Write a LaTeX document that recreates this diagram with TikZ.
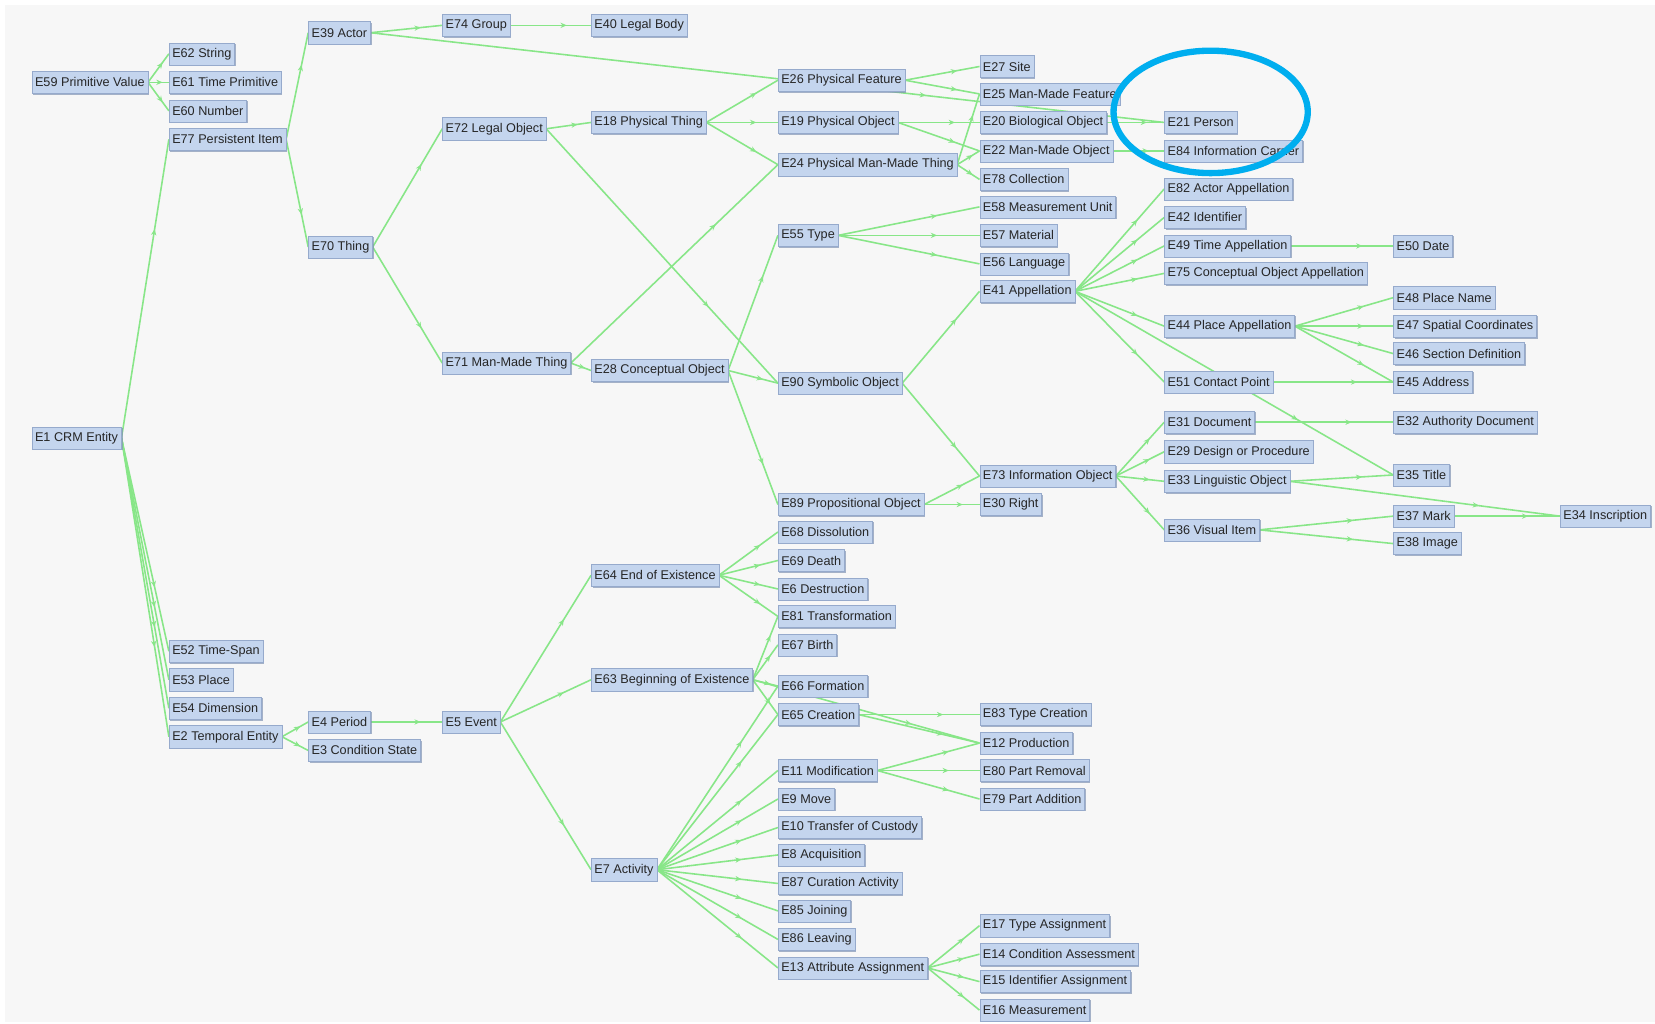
\documentclass[tikz,border=0pt]{standalone}
\usepackage{fontspec}
\setmainfont{Liberation Sans}
\usepackage{xcolor}
\usetikzlibrary{arrows.meta,decorations.markings,shadows}
\definecolor{boxfill}{RGB}{196,213,238}
\definecolor{boxline}{RGB}{150,170,204}
\definecolor{boxshade}{RGB}{130,148,180}
\definecolor{linkgreen}{RGB}{136,230,136}
\definecolor{ringblue}{RGB}{0,174,239}
\definecolor{canvas}{RGB}{247,247,247}
\pgfdeclarelayer{bg}
\pgfsetlayers{bg,main}

\begin{document}
\begin{tikzpicture}[x=1pt,y=-1pt]
    \tikzstyle{entity}=[draw=boxline,fill=boxfill,anchor=west,inner xsep=3pt,inner ysep=0pt,minimum height=21pt,
        font=\fontsize{12}{14}\selectfont,text=black!85,
        drop shadow={shadow xshift=1.2pt,shadow yshift=-1.2pt,fill=boxshade,opacity=0.7}]
    \tikzstyle{link}=[draw=linkgreen,color=linkgreen,line width=1.5pt,postaction={decorate},
        decoration={markings,mark=at position 0.7 with {\arrow{Stealth[length=6pt,width=5pt]}}}]

    \useasboundingbox (0,0) rectangle (1568,970);
    \begin{pgfonlayer}{bg}
        \fill[canvas] (5,5) rectangle (1568,968);
    \end{pgfonlayer}

    % Draw the first column
    \foreach \name / \y / \txt in {E59/78/Primitive Value, E1/415/CRM Entity}
        \node[entity] (\name) at (30,\y) {\name\ \txt};

    % Draw the second column
    \foreach \name / \y / \txt in {E62/51/String, E61/78/Time Primitive, E60/105/Number,
        E77/132/Persistent Item, E52/617/Time-Span, E53/644/Place,
        E54/671/Dimension, E2/698/Temporal Entity}
        \node[entity] (\name) at (160,\y) {\name\ \txt};

    % Draw the third column
    \foreach \name / \y / \txt in {E39/31/Actor, E70/234/Thing, E4/684/Period, E3/711/Condition State}
        \node[entity] (\name) at (292,\y) {\name\ \txt};

    % Draw the fourth column
    \foreach \name / \y / \txt in {E74/24/Group, E72/122/Legal Object, E71/344/Man-Made Thing, E5/684/Event}
        \node[entity] (\name) at (419,\y) {\name\ \txt};

    % Draw the fifth column
    \foreach \name / \y / \txt in {E40/24/Legal Body, E18/116/Physical Thing, E28/351/Conceptual Object,
        E64/545/End of Existence, E63/644/Beginning of Existence, E7/824/Activity}
        \node[entity] (\name) at (560,\y) {\name\ \txt};

    % Draw the sixth column
    \foreach \name / \y / \txt in {E26/76/Physical Feature, E19/116/Physical Object,
        E24/156/Physical Man-Made Thing, E55/223/Type, E90/363/Symbolic Object,
        E89/478/Propositional Object, E68/504/Dissolution, E69/531/Death,
        E6/558/Destruction, E81/584/Transformation, E67/611/Birth,
        E66/650/Formation, E65/677/Creation, E11/730/Modification, E9/757/Move,
        E10/784/Transfer of Custody, E8/810/Acquisition, E87/837/Curation Activity,
        E85/863/Joining, E86/890/Leaving, E13/917/Attribute Assignment}
        \node[entity] (\name) at (737,\y) {\name\ \txt};

    % Draw the seventh column
    \foreach \name / \y / \txt in {E27/63/Site, E25/89/Man-Made Feature, E20/116/Biological Object,
        E22/143/Man-Made Object, E78/170/Collection, E58/196/Measurement Unit,
        E57/223/Material, E56/250/Language, E41/276/Appellation,
        E73/451/Information Object, E30/478/Right, E83/677/Type Creation,
        E12/704/Production, E80/730/Part Removal, E79/757/Part Addition,
        E17/877/Type Assignment, E14/904/Condition Assessment,
        E15/930/Identifier Assignment, E16/957/Measurement}
        \node[entity] (\name) at (928,\y) {\name\ \txt};

    % Draw the eighth column
    \foreach \name / \y / \txt in {E21/116/Person, E84/143/Information Carrier,
        E82/179/Actor Appellation, E42/206/Identifier, E49/233/Time Appellation,
        E75/259/Conceptual Object Appellation, E44/309/Place Appellation,
        E51/362/Contact Point, E31/400/Document, E29/428/Design or Procedure,
        E33/456/Linguistic Object, E36/502/Visual Item}
        \node[entity] (\name) at (1103,\y) {\name\ \txt};

    % Draw the ninth column
    \foreach \name / \y / \txt in {E50/233/Date, E48/282/Place Name, E47/309/Spatial Coordinates,
        E46/335/Section Definition, E45/362/Address, E32/400/Authority Document,
        E35/450/Title, E37/489/Mark, E38/515/Image}
        \node[entity] (\name) at (1320,\y) {\name\ \txt};

    \node[entity] (E34) at (1478,489) {E34 Inscription};

    % Connect every class with its subclasses, behind the boxes
    \begin{pgfonlayer}{bg}
    \foreach \source / \dest in {E59/E62, E59/E61, E59/E60,
        E1/E77, E1/E52, E1/E53, E1/E54, E1/E2,
        E77/E39, E77/E70, E39/E74, E74/E40, E39/E21,
        E70/E72, E70/E71, E72/E18, E72/E90, E71/E24, E71/E28,
        E18/E26, E18/E19, E18/E24, E26/E27, E26/E25,
        E19/E20, E19/E22, E24/E25, E24/E22, E24/E78,
        E20/E21, E22/E84,
        E28/E55, E28/E90, E28/E89, E55/E58, E55/E57, E55/E56,
        E90/E41, E90/E73, E89/E73, E89/E30,
        E41/E82, E41/E42, E41/E49, E41/E75, E41/E44, E41/E51, E41/E35,
        E49/E50, E44/E48, E44/E47, E44/E46, E44/E45, E51/E45,
        E73/E31, E73/E29, E73/E33, E73/E36,
        E31/E32, E33/E35, E33/E34, E36/E37, E36/E38, E37/E34,
        E2/E4, E2/E3, E4/E5, E5/E64, E5/E63, E5/E7,
        E64/E68, E64/E69, E64/E6, E64/E81,
        E63/E81, E63/E67, E63/E66, E63/E65, E63/E12,
        E7/E66, E7/E65, E7/E11, E7/E9, E7/E10, E7/E8, E7/E87, E7/E85, E7/E86, E7/E13,
        E65/E83, E65/E12, E11/E12, E11/E80, E11/E79,
        E13/E17, E13/E14, E13/E15, E13/E16}
        \draw[link] (\source.east) -- (\dest.west);
    \end{pgfonlayer}

    % Highlight
    \draw[ringblue,line width=6pt] (1147,106) ellipse [x radius=92pt,y radius=58pt];

\end{tikzpicture}
\end{document}
